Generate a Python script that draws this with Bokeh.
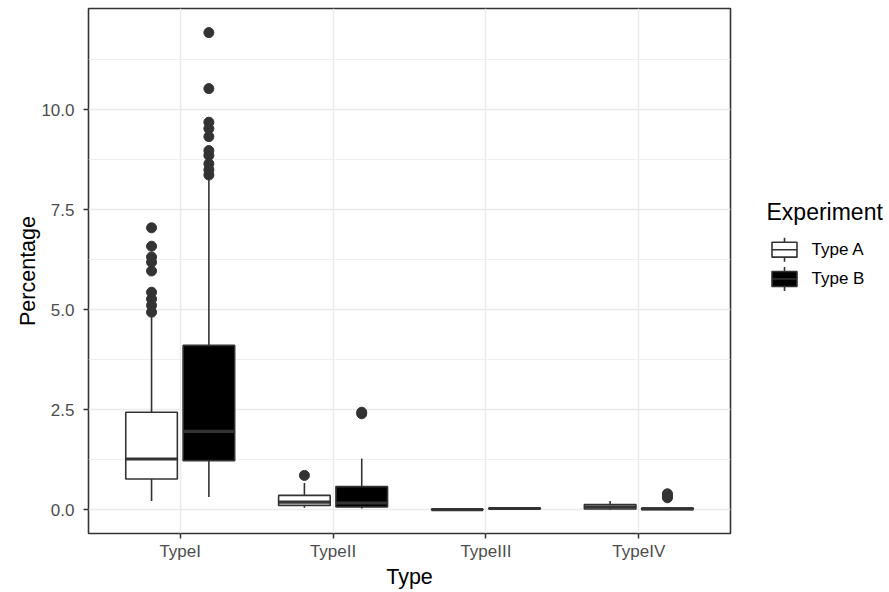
import numpy as np
from bokeh.plotting import figure
from bokeh.models import Range1d, FixedTicker, PrintfTickFormatter, ColumnDataSource
from bokeh.layouts import row
from bokeh.embed import file_html
from bokeh.resources import INLINE
from bokeh.core.properties import value

# ---------------- data ----------------
types = ["TypeI", "TypeII", "TypeIII", "TypeIV"]
experiments = ["Type A", "Type B"]

# box statistics, Type A
lower_a = [0.22, 0.05, 0.000, 0.00]
q1_a = [0.77, 0.11, 0.002, 0.02]
median_a = [1.27, 0.19, 0.006, 0.07]
q3_a = [2.44, 0.36, 0.014, 0.13]
upper_a = [4.82, 0.67, 0.025, 0.22]

# box statistics, Type B
lower_b = [0.32, 0.03, 0.010, 0.00]
q1_b = [1.23, 0.07, 0.024, 0.01]
median_b = [1.96, 0.17, 0.033, 0.025]
q3_b = [4.11, 0.58, 0.044, 0.045]
upper_b = [8.32, 1.28, 0.060, 0.07]

# outliers
out_a_type = ["TypeI"] * 9 + ["TypeII"]
out_a_value = [7.05, 6.59, 6.32, 6.19, 5.97, 5.44, 5.27, 5.11, 4.94, 0.86]
out_b_type = ["TypeI"] * 10 + ["TypeII"] * 2 + ["TypeIV"] * 4
out_b_value = [11.93, 10.53, 9.69, 9.53, 9.33, 8.98, 8.86, 8.65, 8.50, 8.37,
               2.40, 2.44, 0.30, 0.33, 0.37, 0.40]

y_ticks = [0, 2.5, 5, 7.5, 10]
y_minor = [1.25, 3.75, 6.25, 8.75, 11.25]

# ---------------- styling ----------------
FONT = "Liberation Sans"
DARK = "#333333"
GRID = "#EBEBEB"
dodge = 0.1875
box_w = 0.3375
fills = {"Type A": "white", "Type B": "black"}

p = figure(width=732, height=592,
           x_range=Range1d(0.4, 4.6), y_range=Range1d(-0.5925, 12.5325),
           output_backend="svg", toolbar_location=None,
           min_border_left=88, min_border_right=2, min_border_top=8, min_border_bottom=59)
p.background_fill_color = "white"
p.border_fill_color = "white"
p.outline_line_color = DARK
p.outline_line_width = 1.6

stats = {
    "Type A": (lower_a, q1_a, median_a, q3_a, upper_a, out_a_type, out_a_value, -dodge),
    "Type B": (lower_b, q1_b, median_b, q3_b, upper_b, out_b_type, out_b_value, dodge),
}

for exp in experiments:
    lo, q1, med, q3, up, ot, ov, off = stats[exp]
    xs = [types.index(t) + 1 + off for t in types]
    src = ColumnDataSource(dict(x=xs, x0=[x - box_w / 2 for x in xs], x1=[x + box_w / 2 for x in xs],
                                lo=lo, q1=q1, med=med, q3=q3, up=up))
    p.segment(x0="x", x1="x", y0="q3", y1="up", source=src, line_color=DARK, line_width=1.6)
    p.segment(x0="x", x1="x", y0="lo", y1="q1", source=src, line_color=DARK, line_width=1.6)
    p.vbar(x="x", width=box_w, top="q3", bottom="q1", source=src,
           fill_color=fills[exp], line_color=DARK, line_width=1.6)
    p.segment(x0="x0", x1="x1", y0="med", y1="med", source=src, line_color=DARK, line_width=3.2)
    osrc = ColumnDataSource(dict(x=[types.index(t) + 1 + off for t in ot], y=ov))
    p.scatter(x="x", y="y", source=osrc, size=10, fill_color=DARK, line_color=DARK)

# axes
p.xaxis.ticker = FixedTicker(ticks=[1, 2, 3, 4])
p.xaxis.major_label_overrides = {i + 1: t for i, t in enumerate(types)}
p.yaxis.ticker = FixedTicker(ticks=y_ticks, minor_ticks=y_minor)
p.yaxis.formatter = PrintfTickFormatter(format="%.1f")
p.xaxis.axis_label = "Type"
p.yaxis.axis_label = "Percentage"
for ax in p.axis:
    ax.axis_line_color = None
    ax.major_tick_in = 0
    ax.major_tick_out = 5
    ax.major_tick_line_color = DARK
    ax.major_tick_line_width = 1.5
    ax.minor_tick_line_color = None
    ax.major_label_text_font = FONT
    ax.major_label_text_font_size = "17px"
    ax.major_label_text_color = "#4D4D4D"
    ax.axis_label_text_font = FONT
    ax.axis_label_text_font_size = "21.5px"
    ax.axis_label_text_font_style = "normal"
    ax.axis_label_text_color = "black"
p.xaxis.major_label_standoff = 3
p.xaxis.axis_label_standoff = 1
p.yaxis.major_label_standoff = 9
p.yaxis.axis_label_standoff = -2

p.xgrid.ticker = FixedTicker(ticks=[1, 2, 3, 4])
p.ygrid.ticker = FixedTicker(ticks=y_ticks, minor_ticks=y_minor)
p.grid.grid_line_color = GRID
p.grid.grid_line_width = 1.5
p.ygrid.minor_grid_line_color = GRID
p.ygrid.minor_grid_line_width = 0.8

# ---------------- legend panel (page-pixel coordinates) ----------------
lg = figure(width=157, height=592, x_range=Range1d(732, 889), y_range=Range1d(592, 0),
            output_backend="svg", toolbar_location=None,
            x_axis_location=None, y_axis_location=None, min_border=0)
lg.grid.visible = False
lg.outline_line_color = None
lg.background_fill_color = "white"
lg.border_fill_color = "white"

key_x = 784
key_w = 25
key_centers = [272, 305]
key_half = 8.4
whisk_half = 13.5
ksrc = ColumnDataSource(dict(
    x=[key_x, key_x], top=[c - key_half for c in key_centers], bottom=[c + key_half for c in key_centers],
    wt=[c - whisk_half for c in key_centers], wb=[c + whisk_half for c in key_centers],
    c=key_centers, x0=[key_x - key_w / 2] * 2, x1=[key_x + key_w / 2] * 2,
    fill=[fills[e] for e in experiments]))
lg.segment(x0="x", x1="x", y0="wt", y1="wb", source=ksrc, line_color=DARK, line_width=1.6)
lg.vbar(x="x", width=key_w, top="top", bottom="bottom", source=ksrc,
        fill_color="fill", line_color=DARK, line_width=1.6)
lg.segment(x0="x0", x1="x1", y0="c", y1="c", source=ksrc, line_color=DARK, line_width=1.6)

lg.text(x=[766], y=[230], text=["Experiment"], text_font=value(FONT), text_font_size="23px",
        text_baseline="middle", text_color="black")
lg.text(x=[811, 811], y=[272, 305], text=experiments, text_font=value(FONT), text_font_size="17px",
        text_baseline="middle", text_color="black")

layout = row(p, lg)
open("out.html", "w").write(file_html(layout, INLINE))
